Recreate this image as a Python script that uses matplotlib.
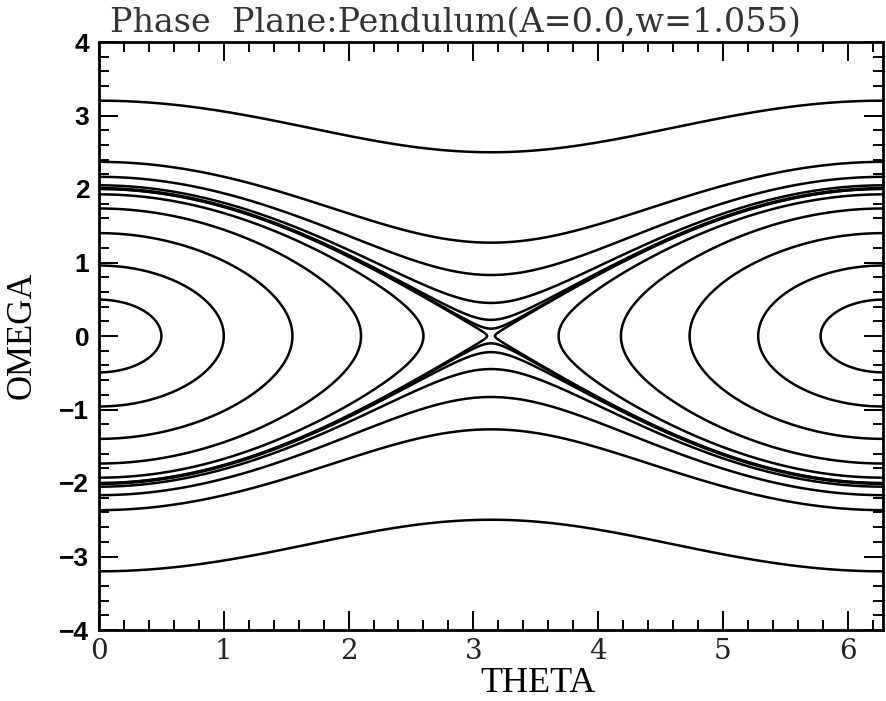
import numpy as np
import matplotlib
matplotlib.use("Agg")
import matplotlib.pyplot as plt
from matplotlib.ticker import MultipleLocator

# -----------------------------
# data
# -----------------------------
# closed orbits: turning angle theta_max (rad)
closed_theta_max = [0.5, 1.0, 1.55, 2.1, 2.6, 3.11]
# open (rotating) orbits: |omega| at theta = pi
open_omega_pi = [0.1, 0.22, 0.45, 0.83, 1.27, 2.5]

x_ticks = [0, 1, 2, 3, 4, 5, 6]
y_ticks = [-4, -3, -2, -1, 0, 1, 2, 3, 4]

title = "Phase  Plane:Pendulum(A=0.0,w=1.055)"

# energy levels of the undamped pendulum H = w^2/2 - cos(theta)
levels = sorted([-np.cos(t) for t in closed_theta_max] +
                [1.0 + w ** 2 / 2.0 for w in open_omega_pi])

theta = np.linspace(0, 2 * np.pi, 2000)
omega = np.linspace(-4, 4, 2000)
TH, OM = np.meshgrid(theta, omega)
H = OM ** 2 / 2.0 - np.cos(TH)

# -----------------------------
# plot
# -----------------------------
fig = plt.figure(figsize=(8.86, 7.01), dpi=100)
ax = fig.add_axes([99 / 886, 71 / 701, 784 / 886, 588 / 701])

ax.contour(TH, OM, H, levels=levels, colors="black", linewidths=1.8,
           linestyles="solid")

ax.set_xlim(0, 2 * np.pi)
ax.set_ylim(-4, 4)
ax.set_xticks(x_ticks)
ax.set_yticks(y_ticks)
ax.xaxis.set_minor_locator(MultipleLocator(0.2))
ax.yaxis.set_minor_locator(MultipleLocator(0.2))
ax.tick_params(which="both", direction="in", top=True, right=True, width=1.4)
ax.tick_params(which="major", length=13.5)
ax.tick_params(which="minor", length=7)
ax.tick_params(axis="x", pad=6)
ax.tick_params(axis="y", pad=7)
for sp in ax.spines.values():
    sp.set_linewidth(2.0)

for lab in ax.get_xticklabels():
    lab.set_fontfamily("DejaVu Serif")
    lab.set_fontsize(20)
    lab.set_color("#222222")
for lab in ax.get_yticklabels():
    lab.set_fontfamily("Liberation Sans")
    lab.set_fontweight("bold")
    lab.set_fontsize(19)

fig.text(22 / 886, 1 - 335 / 701, "OMEGA", rotation=90, ha="center", va="center",
         fontfamily="Liberation Serif", fontsize=25)
fig.text(538 / 886, 1 - 683 / 701, "THETA", ha="center", va="center",
         fontfamily="Liberation Serif", fontsize=26)
fig.text(110 / 886, 1 - 32 / 701, title, ha="left", va="baseline",
         fontfamily="DejaVu Serif", fontsize=24, color="#333333")

fig.savefig("out.png", dpi=100)
